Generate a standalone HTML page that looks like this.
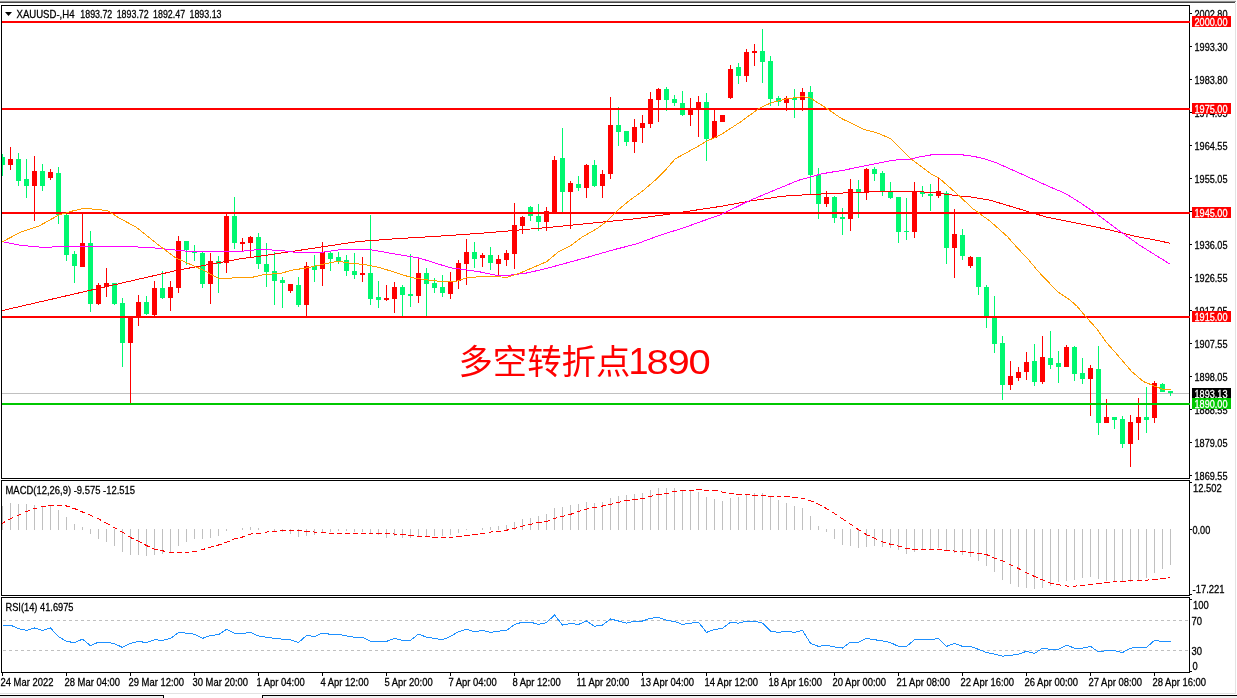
<!DOCTYPE html>
<html lang="zh"><head><meta charset="utf-8"><title>XAUUSD H4</title>
<style>html,body{margin:0;padding:0;background:#fff;overflow:hidden}svg{display:block}text{font-family:"Liberation Sans","Noto Sans CJK SC",sans-serif;font-size:11.5px;fill:#000;stroke:#000;stroke-width:.3px}.cj{font-family:"Liberation Sans","Noto Sans CJK SC",sans-serif;font-size:34.4px;fill:#ff0000;stroke:none}.w{fill:#fff;stroke:#fff}</style></head><body>
<svg width="1237" height="698" viewBox="0 0 1237 698">
<rect width="1237" height="698" fill="#fff"/>
<g shape-rendering="crispEdges">
<rect x="0" y="0" width="1236" height="1" fill="#ebebeb"/>
<rect x="0" y="1" width="1236" height="1" fill="#8e8e8e"/>
<rect x="0" y="2" width="1235" height="1" fill="#454545"/>
<rect x="1235" y="3" width="1" height="691" fill="#e3e3e3"/>
<rect x="0" y="693" width="1236" height="1" fill="#e3e3e3"/>
<rect x="0" y="696" width="1237" height="2" fill="#f0f0f0"/>
<rect x="0" y="695" width="164" height="1" fill="#000"/>
<rect x="163" y="695" width="1" height="3" fill="#000"/>
<rect x="262" y="695" width="975" height="1" fill="#000"/>
<rect x="262" y="695" width="1" height="3" fill="#000"/>
<rect x="164" y="694" width="98" height="4" fill="#fff"/>
<rect x="1.5" y="5.5" width="1188" height="473" fill="none" stroke="#000" stroke-width="1"/>
<rect x="1.5" y="480.5" width="1188" height="115" fill="none" stroke="#000" stroke-width="1"/>
<rect x="1.5" y="597.5" width="1188" height="75" fill="none" stroke="#000" stroke-width="1"/>
</g>
<defs><clipPath id="cm"><rect x="2" y="6" width="1188" height="472"/></clipPath><clipPath id="c2"><rect x="2" y="481" width="1187" height="114"/></clipPath><clipPath id="c3"><rect x="2" y="598" width="1187" height="74"/></clipPath></defs>
<g shape-rendering="crispEdges" clip-path="url(#cm)">
<rect x="2" y="393" width="1187" height="1" fill="#c0c0c0"/>
<rect x="2" y="154" width="1" height="22" fill="#00f870"/>
<rect x="0" y="157" width="5" height="8" fill="#00f870"/>
<rect x="10" y="147" width="1" height="23" fill="#ff0000"/>
<rect x="8" y="159" width="5" height="6" fill="#ff0000"/>
<rect x="18" y="153" width="1" height="33" fill="#00f870"/>
<rect x="16" y="159" width="5" height="22" fill="#00f870"/>
<rect x="26" y="159" width="1" height="39" fill="#00f870"/>
<rect x="24" y="179" width="5" height="7" fill="#00f870"/>
<rect x="34" y="156" width="1" height="65" fill="#ff0000"/>
<rect x="32" y="171" width="5" height="15" fill="#ff0000"/>
<rect x="42" y="164" width="1" height="27" fill="#00f870"/>
<rect x="40" y="171" width="5" height="15" fill="#00f870"/>
<rect x="50" y="169" width="1" height="11" fill="#ff0000"/>
<rect x="48" y="172" width="5" height="6" fill="#ff0000"/>
<rect x="58" y="167" width="1" height="57" fill="#00f870"/>
<rect x="56" y="173" width="5" height="42" fill="#00f870"/>
<rect x="66" y="214" width="1" height="47" fill="#00f870"/>
<rect x="64" y="215" width="5" height="40" fill="#00f870"/>
<rect x="74" y="251" width="1" height="32" fill="#00f870"/>
<rect x="72" y="254" width="5" height="12" fill="#00f870"/>
<rect x="82" y="213" width="1" height="54" fill="#ff0000"/>
<rect x="80" y="243" width="5" height="24" fill="#ff0000"/>
<rect x="90" y="231" width="1" height="81" fill="#00f870"/>
<rect x="88" y="243" width="5" height="61" fill="#00f870"/>
<rect x="98" y="283" width="1" height="22" fill="#ff0000"/>
<rect x="96" y="285" width="5" height="19" fill="#ff0000"/>
<rect x="106" y="268" width="1" height="29" fill="#ff0000"/>
<rect x="104" y="283" width="5" height="4" fill="#ff0000"/>
<rect x="114" y="283" width="1" height="22" fill="#00f870"/>
<rect x="112" y="283" width="5" height="21" fill="#00f870"/>
<rect x="122" y="298" width="1" height="69" fill="#00f870"/>
<rect x="120" y="303" width="5" height="40" fill="#00f870"/>
<rect x="130" y="316" width="1" height="87" fill="#ff0000"/>
<rect x="128" y="317" width="5" height="26" fill="#ff0000"/>
<rect x="138" y="295" width="1" height="31" fill="#ff0000"/>
<rect x="136" y="302" width="5" height="15" fill="#ff0000"/>
<rect x="146" y="296" width="1" height="19" fill="#00f870"/>
<rect x="144" y="302" width="5" height="12" fill="#00f870"/>
<rect x="154" y="281" width="1" height="35" fill="#ff0000"/>
<rect x="152" y="288" width="5" height="27" fill="#ff0000"/>
<rect x="162" y="271" width="1" height="28" fill="#00f870"/>
<rect x="160" y="288" width="5" height="10" fill="#00f870"/>
<rect x="170" y="281" width="1" height="30" fill="#ff0000"/>
<rect x="168" y="287" width="5" height="11" fill="#ff0000"/>
<rect x="178" y="236" width="1" height="57" fill="#ff0000"/>
<rect x="176" y="241" width="5" height="47" fill="#ff0000"/>
<rect x="186" y="241" width="1" height="24" fill="#00f870"/>
<rect x="184" y="241" width="5" height="9" fill="#00f870"/>
<rect x="194" y="245" width="1" height="16" fill="#00f870"/>
<rect x="192" y="251" width="5" height="2" fill="#00f870"/>
<rect x="202" y="251" width="1" height="37" fill="#00f870"/>
<rect x="200" y="253" width="5" height="31" fill="#00f870"/>
<rect x="210" y="253" width="1" height="51" fill="#ff0000"/>
<rect x="208" y="261" width="5" height="23" fill="#ff0000"/>
<rect x="218" y="256" width="1" height="37" fill="#00f870"/>
<rect x="216" y="261" width="5" height="3" fill="#00f870"/>
<rect x="226" y="214" width="1" height="59" fill="#ff0000"/>
<rect x="224" y="216" width="5" height="47" fill="#ff0000"/>
<rect x="234" y="197" width="1" height="52" fill="#00f870"/>
<rect x="232" y="216" width="5" height="27" fill="#00f870"/>
<rect x="242" y="238" width="1" height="13" fill="#ff0000"/>
<rect x="240" y="242" width="5" height="2" fill="#ff0000"/>
<rect x="250" y="236" width="1" height="21" fill="#ff0000"/>
<rect x="248" y="237" width="5" height="6" fill="#ff0000"/>
<rect x="258" y="233" width="1" height="36" fill="#00f870"/>
<rect x="256" y="237" width="5" height="27" fill="#00f870"/>
<rect x="266" y="243" width="1" height="44" fill="#00f870"/>
<rect x="264" y="264" width="5" height="8" fill="#00f870"/>
<rect x="274" y="252" width="1" height="53" fill="#00f870"/>
<rect x="272" y="271" width="5" height="10" fill="#00f870"/>
<rect x="282" y="277" width="1" height="31" fill="#00f870"/>
<rect x="280" y="280" width="5" height="3" fill="#00f870"/>
<rect x="290" y="284" width="1" height="9" fill="#ff0000"/>
<rect x="288" y="284" width="5" height="7" fill="#ff0000"/>
<rect x="298" y="277" width="1" height="30" fill="#00f870"/>
<rect x="296" y="285" width="5" height="20" fill="#00f870"/>
<rect x="306" y="262" width="1" height="55" fill="#ff0000"/>
<rect x="304" y="266" width="5" height="39" fill="#ff0000"/>
<rect x="314" y="255" width="1" height="27" fill="#00f870"/>
<rect x="312" y="266" width="5" height="4" fill="#00f870"/>
<rect x="322" y="242" width="1" height="44" fill="#ff0000"/>
<rect x="320" y="252" width="5" height="17" fill="#ff0000"/>
<rect x="330" y="252" width="1" height="19" fill="#00f870"/>
<rect x="328" y="253" width="5" height="6" fill="#00f870"/>
<rect x="338" y="252" width="1" height="12" fill="#00f870"/>
<rect x="336" y="257" width="5" height="4" fill="#00f870"/>
<rect x="346" y="255" width="1" height="21" fill="#00f870"/>
<rect x="344" y="260" width="5" height="11" fill="#00f870"/>
<rect x="354" y="253" width="1" height="26" fill="#00f870"/>
<rect x="352" y="271" width="5" height="4" fill="#00f870"/>
<rect x="362" y="257" width="1" height="25" fill="#ff0000"/>
<rect x="360" y="273" width="5" height="2" fill="#ff0000"/>
<rect x="370" y="215" width="1" height="90" fill="#00f870"/>
<rect x="368" y="273" width="5" height="26" fill="#00f870"/>
<rect x="378" y="281" width="1" height="27" fill="#00f870"/>
<rect x="376" y="297" width="5" height="3" fill="#00f870"/>
<rect x="386" y="285" width="1" height="16" fill="#ff0000"/>
<rect x="384" y="298" width="5" height="2" fill="#ff0000"/>
<rect x="394" y="282" width="1" height="31" fill="#ff0000"/>
<rect x="392" y="287" width="5" height="12" fill="#ff0000"/>
<rect x="402" y="285" width="1" height="32" fill="#00f870"/>
<rect x="400" y="287" width="5" height="8" fill="#00f870"/>
<rect x="410" y="254" width="1" height="53" fill="#00f870"/>
<rect x="408" y="294" width="5" height="2" fill="#00f870"/>
<rect x="418" y="259" width="1" height="44" fill="#ff0000"/>
<rect x="416" y="273" width="5" height="23" fill="#ff0000"/>
<rect x="426" y="268" width="1" height="49" fill="#00f870"/>
<rect x="424" y="273" width="5" height="11" fill="#00f870"/>
<rect x="434" y="278" width="1" height="15" fill="#00f870"/>
<rect x="432" y="283" width="5" height="5" fill="#00f870"/>
<rect x="442" y="275" width="1" height="22" fill="#00f870"/>
<rect x="440" y="287" width="5" height="6" fill="#00f870"/>
<rect x="450" y="272" width="1" height="27" fill="#ff0000"/>
<rect x="448" y="282" width="5" height="12" fill="#ff0000"/>
<rect x="458" y="260" width="1" height="29" fill="#ff0000"/>
<rect x="456" y="263" width="5" height="18" fill="#ff0000"/>
<rect x="466" y="239" width="1" height="46" fill="#ff0000"/>
<rect x="464" y="252" width="5" height="12" fill="#ff0000"/>
<rect x="474" y="242" width="1" height="26" fill="#00f870"/>
<rect x="472" y="252" width="5" height="7" fill="#00f870"/>
<rect x="482" y="253" width="1" height="14" fill="#ff0000"/>
<rect x="480" y="255" width="5" height="3" fill="#ff0000"/>
<rect x="490" y="247" width="1" height="23" fill="#00f870"/>
<rect x="488" y="255" width="5" height="8" fill="#00f870"/>
<rect x="498" y="255" width="1" height="20" fill="#ff0000"/>
<rect x="496" y="259" width="5" height="5" fill="#ff0000"/>
<rect x="506" y="250" width="1" height="16" fill="#ff0000"/>
<rect x="504" y="253" width="5" height="7" fill="#ff0000"/>
<rect x="514" y="203" width="1" height="66" fill="#ff0000"/>
<rect x="512" y="225" width="5" height="29" fill="#ff0000"/>
<rect x="522" y="216" width="1" height="18" fill="#ff0000"/>
<rect x="520" y="217" width="5" height="9" fill="#ff0000"/>
<rect x="530" y="206" width="1" height="15" fill="#00f870"/>
<rect x="528" y="207" width="5" height="9" fill="#00f870"/>
<rect x="538" y="204" width="1" height="27" fill="#00f870"/>
<rect x="536" y="216" width="5" height="6" fill="#00f870"/>
<rect x="546" y="207" width="1" height="24" fill="#ff0000"/>
<rect x="544" y="211" width="5" height="11" fill="#ff0000"/>
<rect x="554" y="156" width="1" height="57" fill="#ff0000"/>
<rect x="552" y="160" width="5" height="52" fill="#ff0000"/>
<rect x="562" y="128" width="1" height="84" fill="#00f870"/>
<rect x="560" y="158" width="5" height="34" fill="#00f870"/>
<rect x="570" y="181" width="1" height="48" fill="#ff0000"/>
<rect x="568" y="183" width="5" height="9" fill="#ff0000"/>
<rect x="578" y="176" width="1" height="15" fill="#00f870"/>
<rect x="576" y="184" width="5" height="4" fill="#00f870"/>
<rect x="586" y="164" width="1" height="34" fill="#ff0000"/>
<rect x="584" y="165" width="5" height="23" fill="#ff0000"/>
<rect x="594" y="160" width="1" height="27" fill="#00f870"/>
<rect x="592" y="165" width="5" height="21" fill="#00f870"/>
<rect x="602" y="170" width="1" height="28" fill="#ff0000"/>
<rect x="600" y="174" width="5" height="12" fill="#ff0000"/>
<rect x="610" y="97" width="1" height="82" fill="#ff0000"/>
<rect x="608" y="125" width="5" height="49" fill="#ff0000"/>
<rect x="618" y="107" width="1" height="39" fill="#00f870"/>
<rect x="616" y="125" width="5" height="7" fill="#00f870"/>
<rect x="626" y="131" width="1" height="15" fill="#00f870"/>
<rect x="624" y="131" width="5" height="11" fill="#00f870"/>
<rect x="634" y="119" width="1" height="34" fill="#ff0000"/>
<rect x="632" y="127" width="5" height="15" fill="#ff0000"/>
<rect x="642" y="115" width="1" height="28" fill="#ff0000"/>
<rect x="640" y="123" width="5" height="5" fill="#ff0000"/>
<rect x="650" y="92" width="1" height="36" fill="#ff0000"/>
<rect x="648" y="99" width="5" height="25" fill="#ff0000"/>
<rect x="658" y="88" width="1" height="34" fill="#ff0000"/>
<rect x="656" y="89" width="5" height="11" fill="#ff0000"/>
<rect x="666" y="87" width="1" height="24" fill="#00f870"/>
<rect x="664" y="89" width="5" height="11" fill="#00f870"/>
<rect x="674" y="95" width="1" height="11" fill="#00f870"/>
<rect x="672" y="99" width="5" height="4" fill="#00f870"/>
<rect x="682" y="91" width="1" height="25" fill="#00f870"/>
<rect x="680" y="103" width="5" height="12" fill="#00f870"/>
<rect x="690" y="98" width="1" height="28" fill="#ff0000"/>
<rect x="688" y="108" width="5" height="7" fill="#ff0000"/>
<rect x="698" y="96" width="1" height="41" fill="#ff0000"/>
<rect x="696" y="102" width="5" height="6" fill="#ff0000"/>
<rect x="706" y="93" width="1" height="68" fill="#00f870"/>
<rect x="704" y="102" width="5" height="37" fill="#00f870"/>
<rect x="714" y="109" width="1" height="29" fill="#ff0000"/>
<rect x="712" y="121" width="5" height="17" fill="#ff0000"/>
<rect x="722" y="115" width="1" height="7" fill="#ff0000"/>
<rect x="720" y="115" width="5" height="7" fill="#ff0000"/>
<rect x="730" y="65" width="1" height="34" fill="#ff0000"/>
<rect x="728" y="69" width="5" height="29" fill="#ff0000"/>
<rect x="738" y="63" width="1" height="21" fill="#00f870"/>
<rect x="736" y="67" width="5" height="9" fill="#00f870"/>
<rect x="746" y="49" width="1" height="33" fill="#ff0000"/>
<rect x="744" y="52" width="5" height="24" fill="#ff0000"/>
<rect x="754" y="44" width="1" height="22" fill="#ff0000"/>
<rect x="752" y="51" width="5" height="2" fill="#ff0000"/>
<rect x="762" y="29" width="1" height="54" fill="#00f870"/>
<rect x="760" y="51" width="5" height="11" fill="#00f870"/>
<rect x="770" y="56" width="1" height="50" fill="#00f870"/>
<rect x="768" y="61" width="5" height="38" fill="#00f870"/>
<rect x="778" y="96" width="1" height="10" fill="#00f870"/>
<rect x="776" y="98" width="5" height="4" fill="#00f870"/>
<rect x="786" y="96" width="1" height="15" fill="#ff0000"/>
<rect x="784" y="98" width="5" height="5" fill="#ff0000"/>
<rect x="794" y="89" width="1" height="29" fill="#00f870"/>
<rect x="792" y="98" width="5" height="2" fill="#00f870"/>
<rect x="802" y="88" width="1" height="23" fill="#ff0000"/>
<rect x="800" y="92" width="5" height="8" fill="#ff0000"/>
<rect x="810" y="86" width="1" height="109" fill="#00f870"/>
<rect x="808" y="92" width="5" height="83" fill="#00f870"/>
<rect x="818" y="168" width="1" height="51" fill="#00f870"/>
<rect x="816" y="175" width="5" height="29" fill="#00f870"/>
<rect x="826" y="191" width="1" height="16" fill="#ff0000"/>
<rect x="824" y="197" width="5" height="7" fill="#ff0000"/>
<rect x="834" y="196" width="1" height="27" fill="#00f870"/>
<rect x="832" y="197" width="5" height="21" fill="#00f870"/>
<rect x="842" y="208" width="1" height="27" fill="#00f870"/>
<rect x="840" y="217" width="5" height="2" fill="#00f870"/>
<rect x="850" y="179" width="1" height="52" fill="#ff0000"/>
<rect x="848" y="189" width="5" height="30" fill="#ff0000"/>
<rect x="858" y="180" width="1" height="38" fill="#00f870"/>
<rect x="856" y="189" width="5" height="4" fill="#00f870"/>
<rect x="866" y="168" width="1" height="32" fill="#ff0000"/>
<rect x="864" y="169" width="5" height="24" fill="#ff0000"/>
<rect x="874" y="167" width="1" height="14" fill="#00f870"/>
<rect x="872" y="169" width="5" height="5" fill="#00f870"/>
<rect x="882" y="171" width="1" height="25" fill="#00f870"/>
<rect x="880" y="173" width="5" height="19" fill="#00f870"/>
<rect x="890" y="182" width="1" height="17" fill="#00f870"/>
<rect x="888" y="192" width="5" height="6" fill="#00f870"/>
<rect x="898" y="197" width="1" height="46" fill="#00f870"/>
<rect x="896" y="197" width="5" height="35" fill="#00f870"/>
<rect x="906" y="198" width="1" height="42" fill="#00f870"/>
<rect x="904" y="231" width="5" height="1" fill="#00f870"/>
<rect x="914" y="182" width="1" height="56" fill="#ff0000"/>
<rect x="912" y="191" width="5" height="41" fill="#ff0000"/>
<rect x="922" y="186" width="1" height="11" fill="#00f870"/>
<rect x="920" y="192" width="5" height="2" fill="#00f870"/>
<rect x="930" y="184" width="1" height="27" fill="#00f870"/>
<rect x="928" y="194" width="5" height="2" fill="#00f870"/>
<rect x="938" y="177" width="1" height="21" fill="#ff0000"/>
<rect x="936" y="191" width="5" height="5" fill="#ff0000"/>
<rect x="946" y="191" width="1" height="73" fill="#00f870"/>
<rect x="944" y="193" width="5" height="55" fill="#00f870"/>
<rect x="954" y="209" width="1" height="69" fill="#ff0000"/>
<rect x="952" y="234" width="5" height="14" fill="#ff0000"/>
<rect x="962" y="229" width="1" height="31" fill="#00f870"/>
<rect x="960" y="235" width="5" height="21" fill="#00f870"/>
<rect x="970" y="256" width="1" height="12" fill="#ff0000"/>
<rect x="968" y="257" width="5" height="9" fill="#ff0000"/>
<rect x="978" y="257" width="1" height="38" fill="#00f870"/>
<rect x="976" y="257" width="5" height="30" fill="#00f870"/>
<rect x="986" y="285" width="1" height="43" fill="#00f870"/>
<rect x="984" y="287" width="5" height="30" fill="#00f870"/>
<rect x="994" y="296" width="1" height="57" fill="#00f870"/>
<rect x="992" y="317" width="5" height="27" fill="#00f870"/>
<rect x="1002" y="336" width="1" height="64" fill="#00f870"/>
<rect x="1000" y="343" width="5" height="42" fill="#00f870"/>
<rect x="1010" y="361" width="1" height="29" fill="#ff0000"/>
<rect x="1008" y="376" width="5" height="9" fill="#ff0000"/>
<rect x="1018" y="367" width="1" height="14" fill="#ff0000"/>
<rect x="1016" y="372" width="5" height="6" fill="#ff0000"/>
<rect x="1026" y="352" width="1" height="28" fill="#ff0000"/>
<rect x="1024" y="362" width="5" height="10" fill="#ff0000"/>
<rect x="1034" y="344" width="1" height="42" fill="#00f870"/>
<rect x="1032" y="361" width="5" height="21" fill="#00f870"/>
<rect x="1042" y="336" width="1" height="48" fill="#ff0000"/>
<rect x="1040" y="357" width="5" height="25" fill="#ff0000"/>
<rect x="1050" y="331" width="1" height="38" fill="#00f870"/>
<rect x="1048" y="358" width="5" height="7" fill="#00f870"/>
<rect x="1058" y="351" width="1" height="32" fill="#00f870"/>
<rect x="1056" y="363" width="5" height="4" fill="#00f870"/>
<rect x="1066" y="345" width="1" height="22" fill="#ff0000"/>
<rect x="1064" y="347" width="5" height="20" fill="#ff0000"/>
<rect x="1074" y="346" width="1" height="35" fill="#00f870"/>
<rect x="1072" y="347" width="5" height="27" fill="#00f870"/>
<rect x="1082" y="358" width="1" height="26" fill="#00f870"/>
<rect x="1080" y="373" width="5" height="6" fill="#00f870"/>
<rect x="1090" y="365" width="1" height="51" fill="#ff0000"/>
<rect x="1088" y="368" width="5" height="11" fill="#ff0000"/>
<rect x="1098" y="346" width="1" height="89" fill="#00f870"/>
<rect x="1096" y="369" width="5" height="54" fill="#00f870"/>
<rect x="1106" y="399" width="1" height="24" fill="#ff0000"/>
<rect x="1104" y="417" width="5" height="6" fill="#ff0000"/>
<rect x="1114" y="417" width="1" height="12" fill="#00f870"/>
<rect x="1112" y="417" width="5" height="3" fill="#00f870"/>
<rect x="1122" y="416" width="1" height="32" fill="#00f870"/>
<rect x="1120" y="419" width="5" height="25" fill="#00f870"/>
<rect x="1130" y="415" width="1" height="52" fill="#ff0000"/>
<rect x="1128" y="422" width="5" height="22" fill="#ff0000"/>
<rect x="1138" y="398" width="1" height="42" fill="#ff0000"/>
<rect x="1136" y="417" width="5" height="6" fill="#ff0000"/>
<rect x="1146" y="387" width="1" height="46" fill="#00f870"/>
<rect x="1144" y="417" width="5" height="3" fill="#00f870"/>
<rect x="1154" y="381" width="1" height="42" fill="#ff0000"/>
<rect x="1152" y="383" width="5" height="35" fill="#ff0000"/>
<rect x="1162" y="383" width="1" height="9" fill="#00f870"/>
<rect x="1160" y="384" width="5" height="8" fill="#00f870"/>
<rect x="1170" y="391" width="1" height="5" fill="#00f870"/>
<rect x="1168" y="391" width="5" height="2" fill="#00f870"/>
<rect x="2" y="21" width="1188" height="2" fill="#ff0000"/>
<rect x="2" y="108" width="1188" height="2" fill="#ff0000"/>
<rect x="2" y="212" width="1188" height="2" fill="#ff0000"/>
<rect x="2" y="316" width="1188" height="2" fill="#ff0000"/>
<rect x="2" y="403" width="1188" height="2" fill="#00c800"/>
<polyline fill="none" stroke="#ff0000" stroke-width="1" points="2.5,310.5 152.5,276.0 178.5,270.0 240.5,258.8 260.0,256.2 298.9,250.4 337.9,244.5 357.4,241.6 396.4,238.7 435.3,236.4 480.5,233.3 519.5,230.0 558.4,226.5 597.4,222.6 636.4,218.7 675.3,213.2 720.5,206.4 749.7,201.1 782.8,196.2 814.0,194.3 837.4,193.3 876.4,191.4 915.3,191.4 934.8,192.7 960.5,196.2 968.3,196.6 989.7,200.1 1009.2,205.9 1026.7,211.2 1046.2,217.0 1077.4,223.2 1108.6,229.7 1135.8,236.5 1155.3,240.0 1170.5,243.3"/>
<polyline fill="none" stroke="#ff00ff" stroke-width="1" points="2.5,241.7 20.0,245.2 39.5,247.1 78.5,246.8 127.1,246.4 156.4,248.1 195.3,252.0 240.5,251.4 260.0,249.4 279.5,250.4 298.9,252.7 322.3,252.3 337.9,250.0 365.2,249.0 376.9,250.8 396.4,254.3 419.7,258.2 435.3,263.1 450.9,267.9 466.5,269.9 480.5,272.0 496.1,275.2 509.7,275.2 527.3,272.9 546.7,268.4 566.2,263.1 589.6,256.7 613.0,249.9 636.4,244.0 659.7,235.3 683.1,228.0 702.6,221.0 720.5,214.8 749.7,200.5 798.4,180.3 821.8,173.8 845.2,169.9 868.5,165.1 888.0,161.2 900.5,159.4 910.8,159.1 919.9,156.8 934.1,154.4 958.7,154.4 972.9,156.2 984.5,158.8 997.5,163.3 1010.5,169.1 1023.4,174.9 1036.3,180.7 1049.3,186.6 1065.7,193.6 1081.3,203.4 1096.9,214.1 1116.4,228.7 1139.7,245.3 1155.3,255.0 1170.5,264.4"/>
<polyline fill="none" stroke="#ff9c00" stroke-width="1" points="2.5,241.7 20.0,232.5 39.5,225.7 58.9,215.0 72.5,211.0 84.3,208.2 94.0,209.2 107.5,210.5 117.5,217.0 136.9,227.7 156.4,243.3 175.8,257.9 195.3,266.6 203.1,270.0 212.9,275.4 218.7,278.2 240.5,277.9 252.2,277.3 265.8,274.2 279.5,273.8 291.2,270.3 306.7,267.9 324.3,264.0 337.9,261.1 349.5,263.1 365.2,264.6 380.8,267.9 396.4,272.8 411.9,277.7 427.5,280.0 443.1,281.6 454.8,281.6 466.5,277.7 480.5,276.7 507.8,277.1 519.5,273.3 546.7,261.6 558.4,251.8 570.1,246.0 581.8,237.2 597.4,228.4 605.2,222.6 616.9,210.9 628.5,201.2 642.2,191.4 655.8,179.7 665.5,170.0 675.3,158.8 694.8,148.1 706.5,141.3 720.5,134.9 740.0,122.3 759.5,108.1 771.2,102.8 786.7,98.9 802.3,96.6 810.1,97.9 825.7,107.7 841.3,118.4 864.7,129.7 876.4,132.6 890.0,138.3 911.4,159.2 930.9,173.8 938.7,177.7 960.5,197.0 972.2,208.2 989.7,220.9 1007.3,236.5 1015.0,245.3 1028.7,259.9 1038.4,271.6 1057.9,292.0 1069.6,299.7 1077.4,306.6 1085.2,316.0 1096.9,329.0 1106.6,342.6 1120.3,358.2 1131.9,371.8 1143.6,381.6 1155.3,386.4 1163.1,389.4 1170.5,389.4"/>
</g>
<path d="M5 12h7l-3.5 4z" fill="#000"/>
<text x="16.5" y="18" textLength="58.0" lengthAdjust="spacingAndGlyphs">XAUUSD-,H4</text>
<text x="80.3" y="18" textLength="32.0" lengthAdjust="spacingAndGlyphs">1893.72</text>
<text x="116.69999999999999" y="18" textLength="32.0" lengthAdjust="spacingAndGlyphs">1893.72</text>
<text x="153.1" y="18" textLength="32.0" lengthAdjust="spacingAndGlyphs">1892.47</text>
<text x="189.5" y="18" textLength="32.0" lengthAdjust="spacingAndGlyphs">1893.13</text>
<text class="cj" x="458.4" y="374">多空转折点</text>
<text class="cj" style="font-size:36px" x="628.4" y="374">1</text>
<text class="cj" style="font-size:36px;letter-spacing:-1.1px" transform="translate(646.6,374) scale(1.11,1)">890</text>
<g shape-rendering="crispEdges">
<rect x="1190" y="13" width="2" height="1" fill="#000"/>
<rect x="1190" y="46" width="2" height="1" fill="#000"/>
<rect x="1190" y="79" width="2" height="1" fill="#000"/>
<rect x="1190" y="112" width="2" height="1" fill="#000"/>
<rect x="1190" y="145" width="2" height="1" fill="#000"/>
<rect x="1190" y="178" width="2" height="1" fill="#000"/>
<rect x="1190" y="211" width="2" height="1" fill="#000"/>
<rect x="1190" y="244" width="2" height="1" fill="#000"/>
<rect x="1190" y="277" width="2" height="1" fill="#000"/>
<rect x="1190" y="310" width="2" height="1" fill="#000"/>
<rect x="1190" y="343" width="2" height="1" fill="#000"/>
<rect x="1190" y="376" width="2" height="1" fill="#000"/>
<rect x="1190" y="409" width="2" height="1" fill="#000"/>
<rect x="1190" y="442" width="2" height="1" fill="#000"/>
<rect x="1190" y="475" width="2" height="1" fill="#000"/>
</g>
<text x="1194.5" y="18" textLength="33.0" lengthAdjust="spacingAndGlyphs">2002.80</text>
<text x="1194.5" y="51" textLength="33.0" lengthAdjust="spacingAndGlyphs">1993.30</text>
<text x="1194.5" y="84" textLength="33.0" lengthAdjust="spacingAndGlyphs">1983.80</text>
<text x="1194.5" y="117" textLength="33.0" lengthAdjust="spacingAndGlyphs">1974.05</text>
<text x="1194.5" y="150" textLength="33.0" lengthAdjust="spacingAndGlyphs">1964.55</text>
<text x="1194.5" y="183" textLength="33.0" lengthAdjust="spacingAndGlyphs">1955.05</text>
<text x="1194.5" y="216" textLength="33.0" lengthAdjust="spacingAndGlyphs">1945.55</text>
<text x="1194.5" y="249" textLength="33.0" lengthAdjust="spacingAndGlyphs">1936.05</text>
<text x="1194.5" y="282" textLength="33.0" lengthAdjust="spacingAndGlyphs">1926.55</text>
<text x="1194.5" y="315" textLength="33.0" lengthAdjust="spacingAndGlyphs">1917.05</text>
<text x="1194.5" y="348" textLength="33.0" lengthAdjust="spacingAndGlyphs">1907.55</text>
<text x="1194.5" y="381" textLength="33.0" lengthAdjust="spacingAndGlyphs">1898.05</text>
<text x="1194.5" y="414" textLength="33.0" lengthAdjust="spacingAndGlyphs">1888.55</text>
<text x="1194.5" y="447" textLength="33.0" lengthAdjust="spacingAndGlyphs">1879.05</text>
<text x="1194.5" y="480" textLength="33.0" lengthAdjust="spacingAndGlyphs">1869.55</text>
<rect x="1192" y="388" width="39" height="11" fill="#000" shape-rendering="crispEdges"/>
<text x="1194.5" y="398.0" class="w" textLength="33.0" lengthAdjust="spacingAndGlyphs">1893.13</text>
<rect x="1192" y="16" width="39" height="11" fill="#ff0000" shape-rendering="crispEdges"/>
<text x="1194.5" y="26" class="w" textLength="33.0" lengthAdjust="spacingAndGlyphs">2000.00</text>
<rect x="1192" y="103" width="39" height="11" fill="#ff0000" shape-rendering="crispEdges"/>
<text x="1194.5" y="113" class="w" textLength="33.0" lengthAdjust="spacingAndGlyphs">1975.00</text>
<rect x="1192" y="207" width="39" height="11" fill="#ff0000" shape-rendering="crispEdges"/>
<text x="1194.5" y="217" class="w" textLength="33.0" lengthAdjust="spacingAndGlyphs">1945.00</text>
<rect x="1192" y="311" width="39" height="11" fill="#ff0000" shape-rendering="crispEdges"/>
<text x="1194.5" y="321" class="w" textLength="33.0" lengthAdjust="spacingAndGlyphs">1915.00</text>
<rect x="1192" y="398" width="39" height="11" fill="#00c800" shape-rendering="crispEdges"/>
<text x="1194.5" y="408" class="w" textLength="33.0" lengthAdjust="spacingAndGlyphs">1890.00</text>
<g shape-rendering="crispEdges" clip-path="url(#c2)">
<rect x="2" y="506" width="1" height="24" fill="#c0c0c0"/>
<rect x="10" y="503" width="1" height="27" fill="#c0c0c0"/>
<rect x="18" y="504" width="1" height="26" fill="#c0c0c0"/>
<rect x="26" y="504" width="1" height="26" fill="#c0c0c0"/>
<rect x="34" y="505" width="1" height="25" fill="#c0c0c0"/>
<rect x="42" y="506" width="1" height="24" fill="#c0c0c0"/>
<rect x="50" y="506" width="1" height="24" fill="#c0c0c0"/>
<rect x="58" y="510" width="1" height="20" fill="#c0c0c0"/>
<rect x="66" y="517" width="1" height="13" fill="#c0c0c0"/>
<rect x="74" y="524" width="1" height="6" fill="#c0c0c0"/>
<rect x="82" y="527" width="1" height="3" fill="#c0c0c0"/>
<rect x="90" y="529" width="1" height="5" fill="#c0c0c0"/>
<rect x="98" y="529" width="1" height="10" fill="#c0c0c0"/>
<rect x="106" y="529" width="1" height="13" fill="#c0c0c0"/>
<rect x="114" y="529" width="1" height="17" fill="#c0c0c0"/>
<rect x="122" y="529" width="1" height="23" fill="#c0c0c0"/>
<rect x="130" y="529" width="1" height="26" fill="#c0c0c0"/>
<rect x="138" y="529" width="1" height="26" fill="#c0c0c0"/>
<rect x="146" y="529" width="1" height="27" fill="#c0c0c0"/>
<rect x="154" y="529" width="1" height="26" fill="#c0c0c0"/>
<rect x="162" y="529" width="1" height="25" fill="#c0c0c0"/>
<rect x="170" y="529" width="1" height="23" fill="#c0c0c0"/>
<rect x="178" y="529" width="1" height="17" fill="#c0c0c0"/>
<rect x="186" y="529" width="1" height="13" fill="#c0c0c0"/>
<rect x="194" y="529" width="1" height="10" fill="#c0c0c0"/>
<rect x="202" y="529" width="1" height="10" fill="#c0c0c0"/>
<rect x="210" y="529" width="1" height="9" fill="#c0c0c0"/>
<rect x="218" y="529" width="1" height="7" fill="#c0c0c0"/>
<rect x="226" y="529" width="1" height="2" fill="#c0c0c0"/>
<rect x="242" y="528" width="1" height="2" fill="#c0c0c0"/>
<rect x="250" y="527" width="1" height="3" fill="#c0c0c0"/>
<rect x="258" y="528" width="1" height="2" fill="#c0c0c0"/>
<rect x="274" y="529" width="1" height="2" fill="#c0c0c0"/>
<rect x="282" y="529" width="1" height="3" fill="#c0c0c0"/>
<rect x="290" y="529" width="1" height="5" fill="#c0c0c0"/>
<rect x="298" y="529" width="1" height="8" fill="#c0c0c0"/>
<rect x="306" y="529" width="1" height="7" fill="#c0c0c0"/>
<rect x="314" y="529" width="1" height="6" fill="#c0c0c0"/>
<rect x="322" y="529" width="1" height="4" fill="#c0c0c0"/>
<rect x="330" y="529" width="1" height="3" fill="#c0c0c0"/>
<rect x="338" y="529" width="1" height="2" fill="#c0c0c0"/>
<rect x="346" y="529" width="1" height="2" fill="#c0c0c0"/>
<rect x="354" y="529" width="1" height="3" fill="#c0c0c0"/>
<rect x="362" y="529" width="1" height="3" fill="#c0c0c0"/>
<rect x="370" y="529" width="1" height="4" fill="#c0c0c0"/>
<rect x="378" y="529" width="1" height="6" fill="#c0c0c0"/>
<rect x="386" y="529" width="1" height="9" fill="#c0c0c0"/>
<rect x="394" y="529" width="1" height="7" fill="#c0c0c0"/>
<rect x="402" y="529" width="1" height="9" fill="#c0c0c0"/>
<rect x="410" y="529" width="1" height="9" fill="#c0c0c0"/>
<rect x="418" y="529" width="1" height="7" fill="#c0c0c0"/>
<rect x="426" y="529" width="1" height="7" fill="#c0c0c0"/>
<rect x="434" y="529" width="1" height="7" fill="#c0c0c0"/>
<rect x="442" y="529" width="1" height="7" fill="#c0c0c0"/>
<rect x="450" y="529" width="1" height="6" fill="#c0c0c0"/>
<rect x="458" y="529" width="1" height="4" fill="#c0c0c0"/>
<rect x="466" y="529" width="1" height="1" fill="#c0c0c0"/>
<rect x="482" y="528" width="1" height="2" fill="#c0c0c0"/>
<rect x="490" y="527" width="1" height="3" fill="#c0c0c0"/>
<rect x="498" y="526" width="1" height="4" fill="#c0c0c0"/>
<rect x="506" y="525" width="1" height="5" fill="#c0c0c0"/>
<rect x="514" y="522" width="1" height="8" fill="#c0c0c0"/>
<rect x="522" y="519" width="1" height="11" fill="#c0c0c0"/>
<rect x="530" y="518" width="1" height="12" fill="#c0c0c0"/>
<rect x="538" y="516" width="1" height="14" fill="#c0c0c0"/>
<rect x="546" y="514" width="1" height="16" fill="#c0c0c0"/>
<rect x="554" y="508" width="1" height="22" fill="#c0c0c0"/>
<rect x="562" y="507" width="1" height="23" fill="#c0c0c0"/>
<rect x="570" y="505" width="1" height="25" fill="#c0c0c0"/>
<rect x="578" y="504" width="1" height="26" fill="#c0c0c0"/>
<rect x="586" y="502" width="1" height="28" fill="#c0c0c0"/>
<rect x="594" y="503" width="1" height="27" fill="#c0c0c0"/>
<rect x="602" y="502" width="1" height="28" fill="#c0c0c0"/>
<rect x="610" y="498" width="1" height="32" fill="#c0c0c0"/>
<rect x="618" y="496" width="1" height="34" fill="#c0c0c0"/>
<rect x="626" y="495" width="1" height="35" fill="#c0c0c0"/>
<rect x="634" y="494" width="1" height="36" fill="#c0c0c0"/>
<rect x="642" y="493" width="1" height="37" fill="#c0c0c0"/>
<rect x="650" y="490" width="1" height="40" fill="#c0c0c0"/>
<rect x="658" y="488" width="1" height="42" fill="#c0c0c0"/>
<rect x="666" y="488" width="1" height="42" fill="#c0c0c0"/>
<rect x="674" y="488" width="1" height="42" fill="#c0c0c0"/>
<rect x="682" y="490" width="1" height="40" fill="#c0c0c0"/>
<rect x="690" y="491" width="1" height="39" fill="#c0c0c0"/>
<rect x="698" y="492" width="1" height="38" fill="#c0c0c0"/>
<rect x="706" y="497" width="1" height="33" fill="#c0c0c0"/>
<rect x="714" y="499" width="1" height="31" fill="#c0c0c0"/>
<rect x="722" y="501" width="1" height="29" fill="#c0c0c0"/>
<rect x="730" y="498" width="1" height="32" fill="#c0c0c0"/>
<rect x="738" y="497" width="1" height="33" fill="#c0c0c0"/>
<rect x="746" y="495" width="1" height="35" fill="#c0c0c0"/>
<rect x="754" y="493" width="1" height="37" fill="#c0c0c0"/>
<rect x="762" y="493" width="1" height="37" fill="#c0c0c0"/>
<rect x="770" y="496" width="1" height="34" fill="#c0c0c0"/>
<rect x="778" y="500" width="1" height="30" fill="#c0c0c0"/>
<rect x="786" y="503" width="1" height="27" fill="#c0c0c0"/>
<rect x="794" y="506" width="1" height="24" fill="#c0c0c0"/>
<rect x="802" y="508" width="1" height="22" fill="#c0c0c0"/>
<rect x="810" y="516" width="1" height="14" fill="#c0c0c0"/>
<rect x="818" y="526" width="1" height="4" fill="#c0c0c0"/>
<rect x="826" y="529" width="1" height="3" fill="#c0c0c0"/>
<rect x="834" y="529" width="1" height="10" fill="#c0c0c0"/>
<rect x="842" y="529" width="1" height="16" fill="#c0c0c0"/>
<rect x="850" y="529" width="1" height="17" fill="#c0c0c0"/>
<rect x="858" y="529" width="1" height="19" fill="#c0c0c0"/>
<rect x="866" y="529" width="1" height="18" fill="#c0c0c0"/>
<rect x="874" y="529" width="1" height="17" fill="#c0c0c0"/>
<rect x="882" y="529" width="1" height="18" fill="#c0c0c0"/>
<rect x="890" y="529" width="1" height="19" fill="#c0c0c0"/>
<rect x="898" y="529" width="1" height="21" fill="#c0c0c0"/>
<rect x="906" y="529" width="1" height="25" fill="#c0c0c0"/>
<rect x="914" y="529" width="1" height="23" fill="#c0c0c0"/>
<rect x="922" y="529" width="1" height="21" fill="#c0c0c0"/>
<rect x="930" y="529" width="1" height="20" fill="#c0c0c0"/>
<rect x="938" y="529" width="1" height="19" fill="#c0c0c0"/>
<rect x="946" y="529" width="1" height="21" fill="#c0c0c0"/>
<rect x="954" y="529" width="1" height="24" fill="#c0c0c0"/>
<rect x="962" y="529" width="1" height="26" fill="#c0c0c0"/>
<rect x="970" y="529" width="1" height="28" fill="#c0c0c0"/>
<rect x="978" y="529" width="1" height="32" fill="#c0c0c0"/>
<rect x="986" y="529" width="1" height="37" fill="#c0c0c0"/>
<rect x="994" y="529" width="1" height="43" fill="#c0c0c0"/>
<rect x="1002" y="529" width="1" height="51" fill="#c0c0c0"/>
<rect x="1010" y="529" width="1" height="55" fill="#c0c0c0"/>
<rect x="1018" y="529" width="1" height="58" fill="#c0c0c0"/>
<rect x="1026" y="529" width="1" height="59" fill="#c0c0c0"/>
<rect x="1034" y="529" width="1" height="60" fill="#c0c0c0"/>
<rect x="1042" y="529" width="1" height="59" fill="#c0c0c0"/>
<rect x="1050" y="529" width="1" height="57" fill="#c0c0c0"/>
<rect x="1058" y="529" width="1" height="53" fill="#c0c0c0"/>
<rect x="1066" y="529" width="1" height="52" fill="#c0c0c0"/>
<rect x="1074" y="529" width="1" height="51" fill="#c0c0c0"/>
<rect x="1082" y="529" width="1" height="49" fill="#c0c0c0"/>
<rect x="1090" y="529" width="1" height="48" fill="#c0c0c0"/>
<rect x="1098" y="529" width="1" height="50" fill="#c0c0c0"/>
<rect x="1106" y="529" width="1" height="52" fill="#c0c0c0"/>
<rect x="1114" y="529" width="1" height="52" fill="#c0c0c0"/>
<rect x="1122" y="529" width="1" height="53" fill="#c0c0c0"/>
<rect x="1130" y="529" width="1" height="53" fill="#c0c0c0"/>
<rect x="1138" y="529" width="1" height="52" fill="#c0c0c0"/>
<rect x="1146" y="529" width="1" height="49" fill="#c0c0c0"/>
<rect x="1154" y="529" width="1" height="44" fill="#c0c0c0"/>
<rect x="1162" y="529" width="1" height="40" fill="#c0c0c0"/>
<rect x="1170" y="529" width="1" height="36" fill="#c0c0c0"/>
<polyline fill="none" stroke="#ff0000" stroke-width="1" points="0.5,523.2 2.5,523.2 5.5,521.5"/>
<polyline fill="none" stroke="#ff0000" stroke-width="1" points="8.5,519.9 10.5,518.8 13.5,517.5"/>
<polyline fill="none" stroke="#ff0000" stroke-width="1" points="16.5,516.1 18.5,515.2 21.5,513.8"/>
<polyline fill="none" stroke="#ff0000" stroke-width="1" points="24.5,512.4 26.5,511.5 29.5,510.4"/>
<polyline fill="none" stroke="#ff0000" stroke-width="1" points="32.5,509.3 34.5,508.6 37.5,507.9"/>
<polyline fill="none" stroke="#ff0000" stroke-width="1" points="40.5,507.2 42.5,506.7 45.5,506.2"/>
<polyline fill="none" stroke="#ff0000" stroke-width="1" points="48.5,505.8 50.5,505.5 53.5,505.5"/>
<polyline fill="none" stroke="#ff0000" stroke-width="1" points="56.5,505.5 58.5,505.5 61.5,505.7"/>
<polyline fill="none" stroke="#ff0000" stroke-width="1" points="64.5,505.9 66.5,506.0 69.5,507.0"/>
<polyline fill="none" stroke="#ff0000" stroke-width="1" points="72.5,508.0 74.5,508.6 77.5,509.9"/>
<polyline fill="none" stroke="#ff0000" stroke-width="1" points="80.5,511.1 82.5,512.0 85.5,513.2"/>
<polyline fill="none" stroke="#ff0000" stroke-width="1" points="88.5,514.4 90.5,515.2 93.5,516.5"/>
<polyline fill="none" stroke="#ff0000" stroke-width="1" points="96.5,517.9 98.5,518.8 101.5,520.5"/>
<polyline fill="none" stroke="#ff0000" stroke-width="1" points="104.5,522.1 106.5,523.2 109.5,524.9"/>
<polyline fill="none" stroke="#ff0000" stroke-width="1" points="112.5,526.6 114.5,527.8 117.5,529.4"/>
<polyline fill="none" stroke="#ff0000" stroke-width="1" points="120.5,531.0 122.5,532.1 125.5,534.1"/>
<polyline fill="none" stroke="#ff0000" stroke-width="1" points="128.5,536.1 130.5,537.5 133.5,539.0"/>
<polyline fill="none" stroke="#ff0000" stroke-width="1" points="136.5,540.4 138.5,541.4 141.5,542.9"/>
<polyline fill="none" stroke="#ff0000" stroke-width="1" points="144.5,544.5 146.5,545.5 149.5,546.9"/>
<polyline fill="none" stroke="#ff0000" stroke-width="1" points="152.5,548.2 154.5,549.1 157.5,549.7"/>
<polyline fill="none" stroke="#ff0000" stroke-width="1" points="160.5,550.4 162.5,550.8 165.5,551.4"/>
<polyline fill="none" stroke="#ff0000" stroke-width="1" points="168.5,551.9 170.5,552.3 173.5,552.3"/>
<polyline fill="none" stroke="#ff0000" stroke-width="1" points="176.5,552.3 178.5,552.3 181.5,552.3"/>
<polyline fill="none" stroke="#ff0000" stroke-width="1" points="184.5,552.3 186.5,552.3 189.5,552.0"/>
<polyline fill="none" stroke="#ff0000" stroke-width="1" points="192.5,551.7 194.5,551.5 197.5,550.8"/>
<polyline fill="none" stroke="#ff0000" stroke-width="1" points="200.5,550.1 202.5,549.6 205.5,548.7"/>
<polyline fill="none" stroke="#ff0000" stroke-width="1" points="208.5,547.8 210.5,547.2 213.5,546.4"/>
<polyline fill="none" stroke="#ff0000" stroke-width="1" points="216.5,545.5 218.5,545.0 221.5,544.0"/>
<polyline fill="none" stroke="#ff0000" stroke-width="1" points="224.5,543.0 226.5,542.3 229.5,541.0"/>
<polyline fill="none" stroke="#ff0000" stroke-width="1" points="232.5,539.8 234.5,538.9 237.5,538.2"/>
<polyline fill="none" stroke="#ff0000" stroke-width="1" points="240.5,537.5 242.5,537.0 245.5,535.9"/>
<polyline fill="none" stroke="#ff0000" stroke-width="1" points="248.5,534.8 250.5,534.1 253.5,533.8"/>
<polyline fill="none" stroke="#ff0000" stroke-width="1" points="256.5,533.6 258.5,533.4 261.5,532.9"/>
<polyline fill="none" stroke="#ff0000" stroke-width="1" points="264.5,532.4 266.5,532.1 269.5,531.8"/>
<polyline fill="none" stroke="#ff0000" stroke-width="1" points="272.5,531.6 274.5,531.4 277.5,531.0"/>
<polyline fill="none" stroke="#ff0000" stroke-width="1" points="280.5,530.6 282.5,530.4 285.5,530.4"/>
<polyline fill="none" stroke="#ff0000" stroke-width="1" points="288.5,530.4 290.5,530.4 293.5,530.4"/>
<polyline fill="none" stroke="#ff0000" stroke-width="1" points="296.5,530.4 298.5,530.4 301.5,530.8"/>
<polyline fill="none" stroke="#ff0000" stroke-width="1" points="304.5,531.1 306.5,531.4 309.5,531.7"/>
<polyline fill="none" stroke="#ff0000" stroke-width="1" points="312.5,531.9 314.5,532.1 317.5,532.4"/>
<polyline fill="none" stroke="#ff0000" stroke-width="1" points="320.5,532.7 322.5,532.9 325.5,533.0"/>
<polyline fill="none" stroke="#ff0000" stroke-width="1" points="328.5,533.0 330.5,533.1 333.5,533.1"/>
<polyline fill="none" stroke="#ff0000" stroke-width="1" points="336.5,533.1 338.5,533.1 341.5,533.1"/>
<polyline fill="none" stroke="#ff0000" stroke-width="1" points="344.5,533.1 346.5,533.1 349.5,533.1"/>
<polyline fill="none" stroke="#ff0000" stroke-width="1" points="352.5,533.1 354.5,533.1 357.5,533.1"/>
<polyline fill="none" stroke="#ff0000" stroke-width="1" points="360.5,533.1 362.5,533.1 365.5,533.1"/>
<polyline fill="none" stroke="#ff0000" stroke-width="1" points="368.5,533.1 370.5,533.1 373.5,533.2"/>
<polyline fill="none" stroke="#ff0000" stroke-width="1" points="376.5,533.3 378.5,533.4 381.5,533.4"/>
<polyline fill="none" stroke="#ff0000" stroke-width="1" points="384.5,533.4 386.5,533.4 389.5,533.7"/>
<polyline fill="none" stroke="#ff0000" stroke-width="1" points="392.5,533.9 394.5,534.1 397.5,534.3"/>
<polyline fill="none" stroke="#ff0000" stroke-width="1" points="400.5,534.5 402.5,534.6 405.5,534.9"/>
<polyline fill="none" stroke="#ff0000" stroke-width="1" points="408.5,535.1 410.5,535.3 413.5,535.7"/>
<polyline fill="none" stroke="#ff0000" stroke-width="1" points="416.5,536.0 418.5,536.3 421.5,536.3"/>
<polyline fill="none" stroke="#ff0000" stroke-width="1" points="424.5,536.3 426.5,536.3 429.5,536.8"/>
<polyline fill="none" stroke="#ff0000" stroke-width="1" points="432.5,537.2 434.5,537.5 437.5,537.5"/>
<polyline fill="none" stroke="#ff0000" stroke-width="1" points="440.5,537.5 442.5,537.5 445.5,537.5"/>
<polyline fill="none" stroke="#ff0000" stroke-width="1" points="448.5,537.5 450.5,537.5 453.5,537.0"/>
<polyline fill="none" stroke="#ff0000" stroke-width="1" points="456.5,536.6 458.5,536.3 461.5,536.1"/>
<polyline fill="none" stroke="#ff0000" stroke-width="1" points="464.5,535.9 466.5,535.8 469.5,535.4"/>
<polyline fill="none" stroke="#ff0000" stroke-width="1" points="472.5,534.9 474.5,534.6 477.5,534.1"/>
<polyline fill="none" stroke="#ff0000" stroke-width="1" points="480.5,533.7 482.5,533.4 485.5,532.9"/>
<polyline fill="none" stroke="#ff0000" stroke-width="1" points="488.5,532.4 490.5,532.1 493.5,531.8"/>
<polyline fill="none" stroke="#ff0000" stroke-width="1" points="496.5,531.6 498.5,531.4 501.5,531.0"/>
<polyline fill="none" stroke="#ff0000" stroke-width="1" points="504.5,530.5 506.5,530.2 509.5,529.6"/>
<polyline fill="none" stroke="#ff0000" stroke-width="1" points="512.5,528.9 514.5,528.5 517.5,527.6"/>
<polyline fill="none" stroke="#ff0000" stroke-width="1" points="520.5,526.7 522.5,526.1 525.5,525.5"/>
<polyline fill="none" stroke="#ff0000" stroke-width="1" points="528.5,524.8 530.5,524.4 533.5,523.6"/>
<polyline fill="none" stroke="#ff0000" stroke-width="1" points="536.5,522.9 538.5,522.4 541.5,522.1"/>
<polyline fill="none" stroke="#ff0000" stroke-width="1" points="544.5,521.9 546.5,521.7 549.5,520.4"/>
<polyline fill="none" stroke="#ff0000" stroke-width="1" points="552.5,519.1 554.5,518.3 557.5,517.6"/>
<polyline fill="none" stroke="#ff0000" stroke-width="1" points="560.5,516.9 562.5,516.4 565.5,515.6"/>
<polyline fill="none" stroke="#ff0000" stroke-width="1" points="568.5,514.9 570.5,514.4 573.5,513.3"/>
<polyline fill="none" stroke="#ff0000" stroke-width="1" points="576.5,512.2 578.5,511.5 581.5,510.6"/>
<polyline fill="none" stroke="#ff0000" stroke-width="1" points="584.5,509.7 586.5,509.1 589.5,508.5"/>
<polyline fill="none" stroke="#ff0000" stroke-width="1" points="592.5,507.8 594.5,507.4 597.5,506.9"/>
<polyline fill="none" stroke="#ff0000" stroke-width="1" points="600.5,506.4 602.5,506.0 605.5,505.4"/>
<polyline fill="none" stroke="#ff0000" stroke-width="1" points="608.5,504.7 610.5,504.3 613.5,503.6"/>
<polyline fill="none" stroke="#ff0000" stroke-width="1" points="616.5,502.8 618.5,502.3 621.5,501.7"/>
<polyline fill="none" stroke="#ff0000" stroke-width="1" points="624.5,501.0 626.5,500.6 629.5,500.1"/>
<polyline fill="none" stroke="#ff0000" stroke-width="1" points="632.5,499.7 634.5,499.4 637.5,499.1"/>
<polyline fill="none" stroke="#ff0000" stroke-width="1" points="640.5,498.9 642.5,498.7 645.5,497.8"/>
<polyline fill="none" stroke="#ff0000" stroke-width="1" points="648.5,496.9 650.5,496.3 653.5,495.7"/>
<polyline fill="none" stroke="#ff0000" stroke-width="1" points="656.5,495.0 658.5,494.6 661.5,494.3"/>
<polyline fill="none" stroke="#ff0000" stroke-width="1" points="664.5,494.0 666.5,493.8 669.5,492.9"/>
<polyline fill="none" stroke="#ff0000" stroke-width="1" points="672.5,492.0 674.5,491.4 677.5,491.0"/>
<polyline fill="none" stroke="#ff0000" stroke-width="1" points="680.5,490.6 682.5,490.4 685.5,490.4"/>
<polyline fill="none" stroke="#ff0000" stroke-width="1" points="688.5,490.4 690.5,490.4 693.5,490.1"/>
<polyline fill="none" stroke="#ff0000" stroke-width="1" points="696.5,489.9 698.5,489.7 701.5,489.9"/>
<polyline fill="none" stroke="#ff0000" stroke-width="1" points="704.5,490.1 706.5,490.2 709.5,490.3"/>
<polyline fill="none" stroke="#ff0000" stroke-width="1" points="712.5,490.3 714.5,490.4 717.5,491.0"/>
<polyline fill="none" stroke="#ff0000" stroke-width="1" points="720.5,491.7 722.5,492.1 725.5,492.6"/>
<polyline fill="none" stroke="#ff0000" stroke-width="1" points="728.5,493.0 730.5,493.3 733.5,493.8"/>
<polyline fill="none" stroke="#ff0000" stroke-width="1" points="736.5,494.3 738.5,494.6 741.5,494.6"/>
<polyline fill="none" stroke="#ff0000" stroke-width="1" points="744.5,494.6 746.5,494.6 749.5,494.9"/>
<polyline fill="none" stroke="#ff0000" stroke-width="1" points="752.5,495.1 754.5,495.3 757.5,495.3"/>
<polyline fill="none" stroke="#ff0000" stroke-width="1" points="760.5,495.3 762.5,495.3 765.5,495.7"/>
<polyline fill="none" stroke="#ff0000" stroke-width="1" points="768.5,496.1 770.5,496.3 773.5,496.3"/>
<polyline fill="none" stroke="#ff0000" stroke-width="1" points="776.5,496.3 778.5,496.3 781.5,496.4"/>
<polyline fill="none" stroke="#ff0000" stroke-width="1" points="784.5,496.4 786.5,496.5 789.5,496.9"/>
<polyline fill="none" stroke="#ff0000" stroke-width="1" points="792.5,497.2 794.5,497.5 797.5,497.8"/>
<polyline fill="none" stroke="#ff0000" stroke-width="1" points="800.5,498.0 802.5,498.2 805.5,499.1"/>
<polyline fill="none" stroke="#ff0000" stroke-width="1" points="808.5,500.0 810.5,500.6 813.5,502.0"/>
<polyline fill="none" stroke="#ff0000" stroke-width="1" points="816.5,503.4 818.5,504.3 821.5,505.9"/>
<polyline fill="none" stroke="#ff0000" stroke-width="1" points="824.5,507.5 826.5,508.6 829.5,510.4"/>
<polyline fill="none" stroke="#ff0000" stroke-width="1" points="832.5,512.3 834.5,513.5 837.5,515.5"/>
<polyline fill="none" stroke="#ff0000" stroke-width="1" points="840.5,517.5 842.5,518.8 845.5,520.8"/>
<polyline fill="none" stroke="#ff0000" stroke-width="1" points="848.5,522.8 850.5,524.1 853.5,526.2"/>
<polyline fill="none" stroke="#ff0000" stroke-width="1" points="856.5,528.3 858.5,529.7 861.5,531.5"/>
<polyline fill="none" stroke="#ff0000" stroke-width="1" points="864.5,533.4 866.5,534.6 869.5,536.0"/>
<polyline fill="none" stroke="#ff0000" stroke-width="1" points="872.5,537.3 874.5,538.2 877.5,539.5"/>
<polyline fill="none" stroke="#ff0000" stroke-width="1" points="880.5,540.9 882.5,541.8 885.5,542.7"/>
<polyline fill="none" stroke="#ff0000" stroke-width="1" points="888.5,543.7 890.5,544.3 893.5,545.0"/>
<polyline fill="none" stroke="#ff0000" stroke-width="1" points="896.5,545.7 898.5,546.2 901.5,547.0"/>
<polyline fill="none" stroke="#ff0000" stroke-width="1" points="904.5,547.9 906.5,548.4 909.5,548.9"/>
<polyline fill="none" stroke="#ff0000" stroke-width="1" points="912.5,549.3 914.5,549.6 917.5,549.6"/>
<polyline fill="none" stroke="#ff0000" stroke-width="1" points="920.5,549.6 922.5,549.6 925.5,549.6"/>
<polyline fill="none" stroke="#ff0000" stroke-width="1" points="928.5,549.6 930.5,549.6 933.5,549.6"/>
<polyline fill="none" stroke="#ff0000" stroke-width="1" points="936.5,549.6 938.5,549.6 941.5,549.9"/>
<polyline fill="none" stroke="#ff0000" stroke-width="1" points="944.5,550.1 946.5,550.3 949.5,550.6"/>
<polyline fill="none" stroke="#ff0000" stroke-width="1" points="952.5,550.9 954.5,551.1 957.5,551.2"/>
<polyline fill="none" stroke="#ff0000" stroke-width="1" points="960.5,551.4 962.5,551.5 965.5,551.8"/>
<polyline fill="none" stroke="#ff0000" stroke-width="1" points="968.5,552.1 970.5,552.3 973.5,552.6"/>
<polyline fill="none" stroke="#ff0000" stroke-width="1" points="976.5,553.0 978.5,553.2 981.5,553.7"/>
<polyline fill="none" stroke="#ff0000" stroke-width="1" points="984.5,554.2 986.5,554.5 989.5,555.9"/>
<polyline fill="none" stroke="#ff0000" stroke-width="1" points="992.5,557.2 994.5,558.1 997.5,559.1"/>
<polyline fill="none" stroke="#ff0000" stroke-width="1" points="1000.5,560.1 1002.5,560.8 1005.5,562.3"/>
<polyline fill="none" stroke="#ff0000" stroke-width="1" points="1008.5,563.9 1010.5,564.9 1013.5,566.2"/>
<polyline fill="none" stroke="#ff0000" stroke-width="1" points="1016.5,567.6 1018.5,568.5 1021.5,570.1"/>
<polyline fill="none" stroke="#ff0000" stroke-width="1" points="1024.5,571.7 1026.5,572.7 1029.5,574.1"/>
<polyline fill="none" stroke="#ff0000" stroke-width="1" points="1032.5,575.5 1034.5,576.5 1037.5,577.8"/>
<polyline fill="none" stroke="#ff0000" stroke-width="1" points="1040.5,579.0 1042.5,579.9 1045.5,581.1"/>
<polyline fill="none" stroke="#ff0000" stroke-width="1" points="1048.5,582.3 1050.5,583.1 1053.5,583.7"/>
<polyline fill="none" stroke="#ff0000" stroke-width="1" points="1056.5,584.4 1058.5,584.8 1061.5,585.2"/>
<polyline fill="none" stroke="#ff0000" stroke-width="1" points="1064.5,585.7 1066.5,586.0 1069.5,586.1"/>
<polyline fill="none" stroke="#ff0000" stroke-width="1" points="1072.5,586.2 1074.5,586.2 1077.5,585.9"/>
<polyline fill="none" stroke="#ff0000" stroke-width="1" points="1080.5,585.7 1082.5,585.5 1085.5,585.0"/>
<polyline fill="none" stroke="#ff0000" stroke-width="1" points="1088.5,584.6 1090.5,584.3 1093.5,584.0"/>
<polyline fill="none" stroke="#ff0000" stroke-width="1" points="1096.5,583.8 1098.5,583.6 1101.5,583.2"/>
<polyline fill="none" stroke="#ff0000" stroke-width="1" points="1104.5,582.9 1106.5,582.6 1109.5,582.3"/>
<polyline fill="none" stroke="#ff0000" stroke-width="1" points="1112.5,582.1 1114.5,581.9 1117.5,581.7"/>
<polyline fill="none" stroke="#ff0000" stroke-width="1" points="1120.5,581.5 1122.5,581.4 1125.5,581.1"/>
<polyline fill="none" stroke="#ff0000" stroke-width="1" points="1128.5,580.9 1130.5,580.7 1133.5,580.5"/>
<polyline fill="none" stroke="#ff0000" stroke-width="1" points="1136.5,580.3 1138.5,580.2 1141.5,580.2"/>
<polyline fill="none" stroke="#ff0000" stroke-width="1" points="1144.5,580.2 1146.5,580.2 1149.5,579.9"/>
<polyline fill="none" stroke="#ff0000" stroke-width="1" points="1152.5,579.6 1154.5,579.4 1157.5,579.1"/>
<polyline fill="none" stroke="#ff0000" stroke-width="1" points="1160.5,578.9 1162.5,578.7 1165.5,578.2"/>
<polyline fill="none" stroke="#ff0000" stroke-width="1" points="1168.5,577.8 1170.5,577.5"/>
</g>
<text x="5.5" y="494" textLength="129.5" lengthAdjust="spacingAndGlyphs">MACD(12,26,9) -9.575 -12.515</text>
<g shape-rendering="crispEdges">
<rect x="1190" y="482" width="2" height="1" fill="#000"/>
<rect x="1190" y="529" width="2" height="1" fill="#000"/>
<rect x="1190" y="594" width="2" height="1" fill="#000"/>
<rect x="1190" y="599" width="2" height="1" fill="#000"/>
<rect x="1190" y="671" width="2" height="1" fill="#000"/>
</g>
<text x="1193" y="492" textLength="28.8" lengthAdjust="spacingAndGlyphs">12.502</text>
<text x="1192.5" y="534" textLength="17.8" lengthAdjust="spacingAndGlyphs">0.00</text>
<text x="1192.5" y="593" textLength="32.0" lengthAdjust="spacingAndGlyphs">-17.221</text>
<line x1="3" x2="1189" y1="620.5" y2="620.5" stroke="#c0c0c0" stroke-width="1" stroke-dasharray="3 3"/>
<line x1="3" x2="1189" y1="650.5" y2="650.5" stroke="#c0c0c0" stroke-width="1" stroke-dasharray="3 3"/>
<g shape-rendering="crispEdges" clip-path="url(#c3)">
<polyline fill="none" stroke="#1e90ff" stroke-width="1" points="2.5,625.1 10.5,625.1 18.5,628.7 26.5,630.4 34.5,628.0 42.5,630.4 50.5,628.0 58.5,636.7 66.5,641.4 74.5,642.6 82.5,639.2 90.5,645.7 98.5,642.1 106.5,642.1 114.5,643.8 122.5,647.4 130.5,643.3 138.5,641.4 146.5,642.6 154.5,639.7 162.5,640.4 170.5,638.4 178.5,632.4 186.5,633.1 194.5,634.3 202.5,638.4 210.5,635.3 218.5,634.8 226.5,629.2 234.5,633.1 242.5,633.6 250.5,632.4 258.5,636.0 266.5,637.2 274.5,638.4 282.5,639.2 290.5,639.7 298.5,642.6 306.5,635.5 314.5,636.5 322.5,633.1 330.5,634.3 338.5,634.3 346.5,636.0 354.5,637.2 362.5,637.2 370.5,641.4 378.5,641.4 386.5,641.4 394.5,638.4 402.5,640.4 410.5,640.4 418.5,634.1 426.5,637.2 434.5,638.4 442.5,639.7 450.5,636.5 458.5,631.7 466.5,629.2 474.5,631.7 482.5,630.4 490.5,632.4 498.5,631.2 506.5,630.4 514.5,624.4 522.5,622.2 530.5,622.2 538.5,624.4 546.5,622.7 554.5,614.9 562.5,625.1 570.5,623.4 578.5,624.4 586.5,621.0 594.5,626.3 602.5,625.1 610.5,619.0 618.5,621.0 626.5,623.2 634.5,621.0 642.5,621.0 650.5,618.3 658.5,617.3 666.5,620.3 674.5,621.5 682.5,624.4 690.5,623.2 698.5,622.2 706.5,632.4 714.5,629.5 722.5,628.3 730.5,622.2 738.5,623.2 746.5,621.0 754.5,621.0 762.5,623.2 770.5,631.2 778.5,632.4 786.5,631.2 794.5,632.4 802.5,630.4 810.5,643.3 818.5,646.4 826.5,645.2 834.5,646.9 842.5,648.1 850.5,642.1 858.5,642.1 866.5,638.4 874.5,639.7 882.5,640.9 890.5,642.6 898.5,646.4 906.5,646.4 914.5,639.7 922.5,639.7 930.5,639.7 938.5,638.4 946.5,646.4 954.5,643.3 962.5,646.4 970.5,646.4 978.5,649.4 986.5,652.5 994.5,654.2 1002.5,656.2 1010.5,655.4 1018.5,654.2 1026.5,651.3 1034.5,653.5 1042.5,648.1 1050.5,649.4 1058.5,649.4 1066.5,645.2 1074.5,648.1 1082.5,648.1 1090.5,646.4 1098.5,651.8 1106.5,650.6 1114.5,650.6 1122.5,652.5 1130.5,648.1 1138.5,647.4 1146.5,647.4 1154.5,640.4 1162.5,641.4 1170.5,641.4"/>
</g>
<text x="5.5" y="611" textLength="68.0" lengthAdjust="spacingAndGlyphs">RSI(14) 41.6975</text>
<text x="1193" y="609" textLength="15.7" lengthAdjust="spacingAndGlyphs">100</text>
<text x="1191.5" y="625" textLength="10.5" lengthAdjust="spacingAndGlyphs">70</text>
<text x="1191.5" y="655" textLength="10.5" lengthAdjust="spacingAndGlyphs">30</text>
<text x="1192.5" y="670" textLength="5.2" lengthAdjust="spacingAndGlyphs">0</text>
<g shape-rendering="crispEdges">
<rect x="2" y="673" width="1" height="3" fill="#000"/>
<rect x="66" y="673" width="1" height="3" fill="#000"/>
<rect x="130" y="673" width="1" height="3" fill="#000"/>
<rect x="194" y="673" width="1" height="3" fill="#000"/>
<rect x="258" y="673" width="1" height="3" fill="#000"/>
<rect x="322" y="673" width="1" height="3" fill="#000"/>
<rect x="386" y="673" width="1" height="3" fill="#000"/>
<rect x="450" y="673" width="1" height="3" fill="#000"/>
<rect x="514" y="673" width="1" height="3" fill="#000"/>
<rect x="578" y="673" width="1" height="3" fill="#000"/>
<rect x="642" y="673" width="1" height="3" fill="#000"/>
<rect x="706" y="673" width="1" height="3" fill="#000"/>
<rect x="770" y="673" width="1" height="3" fill="#000"/>
<rect x="834" y="673" width="1" height="3" fill="#000"/>
<rect x="898" y="673" width="1" height="3" fill="#000"/>
<rect x="962" y="673" width="1" height="3" fill="#000"/>
<rect x="1026" y="673" width="1" height="3" fill="#000"/>
<rect x="1090" y="673" width="1" height="3" fill="#000"/>
<rect x="1154" y="673" width="1" height="3" fill="#000"/>
</g>
<text x="0.5" y="686" textLength="52.9" lengthAdjust="spacingAndGlyphs">24 Mar 2022</text>
<text x="64.5" y="686" textLength="55.6" lengthAdjust="spacingAndGlyphs">28 Mar 04:00</text>
<text x="128.5" y="686" textLength="55.6" lengthAdjust="spacingAndGlyphs">29 Mar 12:00</text>
<text x="192.5" y="686" textLength="55.6" lengthAdjust="spacingAndGlyphs">30 Mar 20:00</text>
<text x="256.5" y="686" textLength="48.2" lengthAdjust="spacingAndGlyphs">1 Apr 04:00</text>
<text x="320.5" y="686" textLength="48.2" lengthAdjust="spacingAndGlyphs">4 Apr 12:00</text>
<text x="384.5" y="686" textLength="48.2" lengthAdjust="spacingAndGlyphs">5 Apr 20:00</text>
<text x="448.5" y="686" textLength="48.2" lengthAdjust="spacingAndGlyphs">7 Apr 04:00</text>
<text x="512.5" y="686" textLength="48.2" lengthAdjust="spacingAndGlyphs">8 Apr 12:00</text>
<text x="576.5" y="686" textLength="52.8" lengthAdjust="spacingAndGlyphs">11 Apr 20:00</text>
<text x="640.5" y="686" textLength="53.5" lengthAdjust="spacingAndGlyphs">13 Apr 04:00</text>
<text x="704.5" y="686" textLength="53.5" lengthAdjust="spacingAndGlyphs">14 Apr 12:00</text>
<text x="768.5" y="686" textLength="53.5" lengthAdjust="spacingAndGlyphs">18 Apr 16:00</text>
<text x="832.5" y="686" textLength="53.5" lengthAdjust="spacingAndGlyphs">20 Apr 00:00</text>
<text x="896.5" y="686" textLength="53.5" lengthAdjust="spacingAndGlyphs">21 Apr 08:00</text>
<text x="960.5" y="686" textLength="53.5" lengthAdjust="spacingAndGlyphs">22 Apr 16:00</text>
<text x="1024.5" y="686" textLength="53.5" lengthAdjust="spacingAndGlyphs">26 Apr 00:00</text>
<text x="1088.5" y="686" textLength="53.5" lengthAdjust="spacingAndGlyphs">27 Apr 08:00</text>
<text x="1152.5" y="686" textLength="53.5" lengthAdjust="spacingAndGlyphs">28 Apr 16:00</text>
</svg></body></html>
